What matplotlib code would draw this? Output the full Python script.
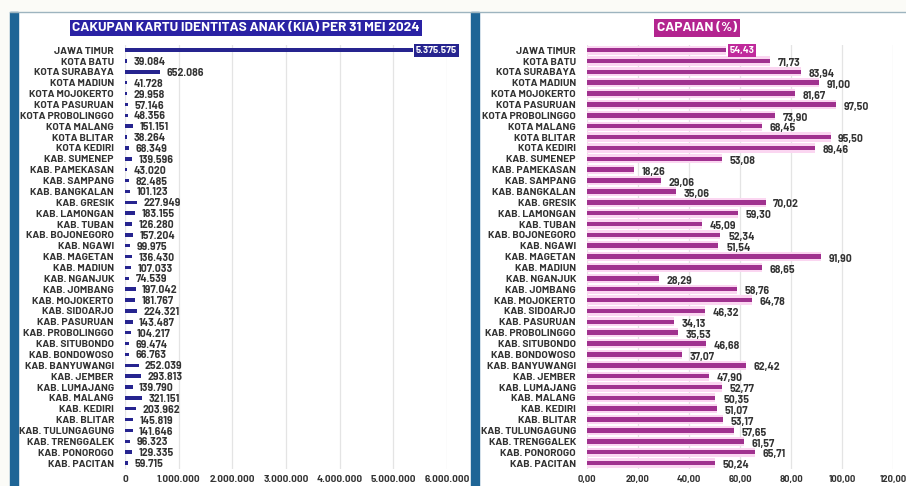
import numpy as np
import matplotlib
matplotlib.use("Agg")
from matplotlib import pyplot as plt
from matplotlib.patches import Rectangle

plt.rcParams['font.family'] = ['Barlow', 'Barlow Semi Condensed', 'DejaVu Sans']

# data
wilayah = ['JAWA TIMUR', 'KOTA BATU', 'KOTA SURABAYA', 'KOTA MADIUN', 'KOTA MOJOKERTO',
           'KOTA PASURUAN', 'KOTA PROBOLINGGO', 'KOTA MALANG', 'KOTA BLITAR', 'KOTA KEDIRI',
           'KAB. SUMENEP', 'KAB. PAMEKASAN', 'KAB. SAMPANG', 'KAB. BANGKALAN', 'KAB. GRESIK',
           'KAB. LAMONGAN', 'KAB. TUBAN', 'KAB. BOJONEGORO', 'KAB. NGAWI', 'KAB. MAGETAN',
           'KAB. MADIUN', 'KAB. NGANJUK', 'KAB. JOMBANG', 'KAB. MOJOKERTO', 'KAB. SIDOARJO',
           'KAB. PASURUAN', 'KAB. PROBOLINGGO', 'KAB. SITUBONDO', 'KAB. BONDOWOSO',
           'KAB. BANYUWANGI', 'KAB. JEMBER', 'KAB. LUMAJANG', 'KAB. MALANG', 'KAB. KEDIRI',
           'KAB. BLITAR', 'KAB. TULUNGAGUNG', 'KAB. TRENGGALEK', 'KAB. PONOROGO', 'KAB. PACITAN']

kia = [5375575, 39084, 652086, 41728, 29958, 57146, 48356, 151151, 38264, 68349,
       139596, 43020, 82485, 101123, 227949, 183155, 126280, 157204, 99975, 136430,
       107033, 74539, 197042, 181767, 224321, 143487, 104217, 69474, 66763,
       252039, 293813, 139790, 321151, 203962, 145819, 141646, 96323, 129335, 59715]

capaian = [54.43, 71.73, 83.94, 91.00, 81.67, 97.50, 73.90, 68.45, 95.50, 89.46,
           53.08, 18.26, 29.06, 35.06, 70.02, 59.30, 45.09, 52.34, 51.54, 91.90,
           68.65, 28.29, 58.76, 64.78, 46.32, 34.13, 35.53, 46.68, 37.07,
           62.42, 47.90, 52.77, 50.35, 51.07, 53.17, 57.65, 61.57, 65.71, 50.24]

kia_ticks = [0, 1000000, 2000000, 3000000, 4000000, 5000000, 6000000]
cap_ticks = [0, 20, 40, 60, 80, 100, 120]

navy = '#26248f'
magenta = '#a0318f'
text_c = '#333333'

def dot(v):
    return f'{v:,.0f}'.replace(',', '.')

def koma(v):
    return f'{v:.2f}'.replace('.', ',')

fig = plt.figure(figsize=(9.06, 4.86), dpi=100)
fig.patch.set_facecolor('#fbfbf7')

# card backgrounds
bg = fig.add_axes([0, 0, 1, 1])
bg.set_xlim(0, 906)
bg.set_ylim(486, 0)
bg.axis('off')
bg.add_patch(Rectangle((10, 12), 896, 474, color='white'))
bg.plot([10, 906], [12, 12], color='#9db4bf', lw=1)
bg.add_patch(Rectangle((10, 12), 8, 474, color='#1f6596'))
bg.add_patch(Rectangle((471, 12), 8, 474, color='#1f6596'))

y = np.arange(len(wilayah))

# left panel
ax1 = fig.add_axes([125/906, 0.036, 322/906, 0.872])
ax1.barh(y, kia, height=0.32, color=navy, zorder=3)
ax1.set_xlim(0, 6000000)
ax1.set_ylim(len(wilayah) - 0.5, -0.5)
ax1.set_xticks(kia_ticks)
ax1.set_xticklabels([dot(t) for t in kia_ticks])
for i, v in enumerate(kia):
    if i == 0:
        ax1.text(v + 40000, i, dot(v), va='center', ha='left', fontsize=7,
                 fontweight='bold', color='white',
                 bbox=dict(boxstyle='square,pad=0.2', fc=navy, ec='none'))
    else:
        ax1.text(v + 120000, i + 0.1, dot(v), va='center', ha='left', fontsize=7.6,
                 fontweight='bold', color=text_c)

# right panel
ax2 = fig.add_axes([587/906, 0.036, 306/906, 0.872])
ax2.barh(y, capaian, height=0.85, color='#fbd6f1', zorder=2)
ax2.barh(y, capaian, height=0.42, color=magenta, zorder=3)
ax2.set_xlim(0, 120)
ax2.set_ylim(len(wilayah) - 0.5, -0.5)
ax2.set_xticks(cap_ticks)
ax2.set_xticklabels([koma(t) for t in cap_ticks])
for i, v in enumerate(capaian):
    if i == 0:
        ax2.text(v + 1.5, i, koma(v), va='center', ha='left', fontsize=7,
                 fontweight='bold', color='white',
                 bbox=dict(boxstyle='square,pad=0.2', fc='#c02a9c', ec='none'))
    else:
        ax2.text(v + 3, i + 0.2, koma(v), va='center', ha='left', fontsize=7.6,
                 fontweight='bold', color=text_c)

for ax in (ax1, ax2):
    ax.set_facecolor('none')
    ax.set_yticks(y)
    ax.set_yticklabels(wilayah)
    ax.tick_params(axis='y', length=0, pad=8, labelsize=7.4, labelcolor=text_c)
    ax.tick_params(axis='x', length=0, pad=5, labelsize=7.2, labelcolor=text_c)
    for lab in ax.get_yticklabels() + ax.get_xticklabels():
        lab.set_fontweight('bold')
    for s in ax.spines.values():
        s.set_visible(False)
    ax.grid(axis='x', color='#e4e4e4', lw=0.9, zorder=0)
    ax.set_axisbelow(True)

ax2.tick_params(axis='x', labelsize=6.8)

# titles
fig.text(246/906, 1 - 28/486, 'CAKUPAN KARTU IDENTITAS ANAK (KIA) PER 31 MEI 2024',
         ha='center', va='center', fontsize=9.8, fontweight='bold', color='white',
         bbox=dict(boxstyle='square,pad=0.2', fc='#2a22a4', ec='none'))
fig.text(697/906, 1 - 28/486, 'CAPAIAN (%)', ha='center', va='center', fontsize=9.8,
         fontweight='bold', color='white',
         bbox=dict(boxstyle='square,pad=0.25', fc='#b3248f', ec='none'))

fig.savefig('out.png', dpi=100, facecolor=fig.get_facecolor())
